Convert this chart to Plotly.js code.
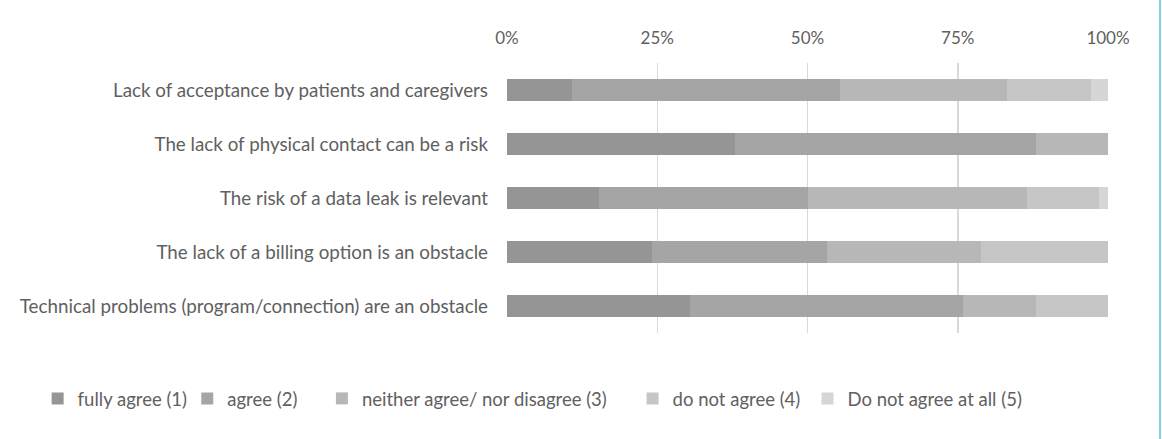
<!DOCTYPE html>
<html>
<head>
<meta charset="utf-8">
<script src="https://cdn.plot.ly/plotly-3.0.1.min.js"></script>
<style>
html,body{margin:0;padding:0;background:#fff;}
#chart{width:1162px;height:439px;}
</style>
</head>
<body>
<div id="chart"></div>
<script>
// Categories (top to bottom as shown)
const categories = [
  "Lack of acceptance by patients and caregivers",
  "The lack of physical contact can be a risk",
  "The risk of a data leak is relevant",
  "The lack of a billing option is an obstacle",
  "Technical problems (program/connection) are an obstacle"
];
const seriesNames = [
  "fully agree (1)",
  "agree (2)",
  "neither agree/ nor disagree (3)",
  "do not agree (4)",
  "Do not agree at all (5)"
];
// percentage values per category (same order as categories)
const fullyAgree   = [10.8, 38.0, 15.3, 24.2, 30.4];
const agree        = [44.6, 50.0, 34.7, 29.0, 45.5];
const neither      = [27.8, 12.0, 36.5, 25.7, 12.1];
const doNotAgree   = [13.9, 0.0, 12.0, 21.1, 12.0];
const notAtAll     = [2.9, 0.0, 1.5, 0.0, 0.0];
const tickVals = [0, 25, 50, 75, 100];
const tickLabels = ["0%", "25%", "50%", "75%", "100%"];

const colors = ["#959595", "#a5a5a5", "#b7b7b7", "#c6c6c6", "#d6d6d6"];
const values = [fullyAgree, agree, neither, doNotAgree, notAtAll];
const legendX = [-0.781, -0.532, -0.308, 0.209, 0.500];
const textColor = "#606060";
const fontFam = "Lato, 'Open Sans', sans-serif";
const fs = 18.8;

const traces = values.map((v, i) => {
  const t = {
    type: "bar",
    orientation: "h",
    name: seriesNames[i],
    x: v,
    y: categories,
    marker: {color: colors[i], line: {width: 0}},
    hoverinfo: "x+name"
  };
  if (i > 0) t.legend = "legend" + (i + 1);
  return t;
});

const layout = {
  width: 1162,
  height: 439,
  margin: {l: 507, r: 54, t: 63, b: 106},
  paper_bgcolor: "#ffffff",
  plot_bgcolor: "#ffffff",
  barmode: "stack",
  bargap: 0.6,
  showlegend: true,
  font: {family: fontFam, size: fs, color: textColor},
  xaxis: {
    side: "top",
    range: [0, 100],
    tickvals: tickVals,
    ticktext: tickLabels,
    showgrid: true,
    gridcolor: "#d9d9d9",
    gridwidth: 1.5,
    zeroline: false,
    showline: false,
    ticks: "",
    ticklabelstandoff: 15,
    tickfont: {family: fontFam, size: 17, color: textColor},
    fixedrange: true
  },
  yaxis: {
    autorange: "reversed",
    showgrid: false,
    zeroline: false,
    showline: false,
    ticks: "",
    ticklabelstandoff: 18,
    tickfont: {family: fontFam, size: fs, color: textColor},
    fixedrange: true
  },
  shapes: [{
    type: "line", xref: "paper", yref: "paper",
    x0: 1.0865, x1: 1.0865, y0: -0.4, y1: 1.25,
    line: {color: "#7fd0da", width: 2}
  }]
};
legendX.forEach((lx, i) => {
  const key = i === 0 ? "legend" : "legend" + (i + 1);
  layout[key] = {
    orientation: "h",
    x: lx, xanchor: "left",
    y: -0.244, yanchor: "middle",
    bgcolor: "rgba(0,0,0,0)",
    font: {family: fontFam, size: 18.5, color: textColor},
    itemwidth: 30,
    traceorder: "normal",
    visible: true
  };
});

Plotly.newPlot("chart", traces, layout, {displayModeBar: false, staticPlot: true});
</script>
</body>
</html>
